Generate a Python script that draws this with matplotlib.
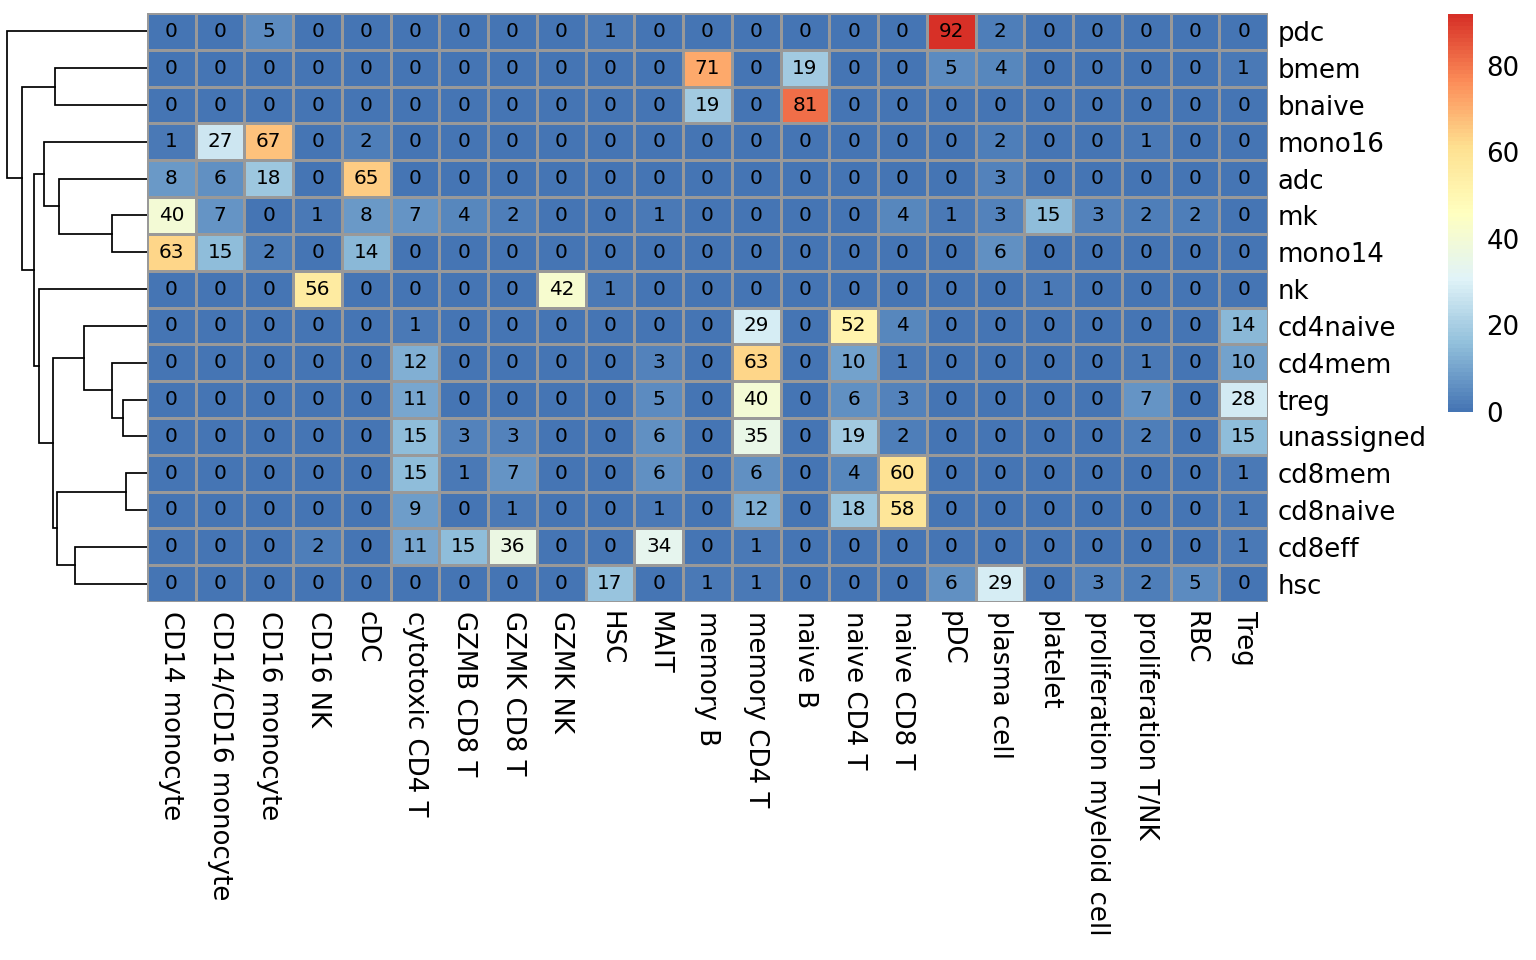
import numpy as np
import matplotlib
matplotlib.use("Agg")
import matplotlib.pyplot as plt
from matplotlib.colors import LinearSegmentedColormap, Normalize

col_labels = ["CD14 monocyte", "CD14/CD16 monocyte", "CD16 monocyte", "CD16 NK", "cDC",
              "cytotoxic CD4 T", "GZMB CD8 T", "GZMK CD8 T", "GZMK NK", "HSC", "MAIT",
              "memory B", "memory CD4 T", "naive B", "naive CD4 T", "naive CD8 T", "pDC",
              "plasma cell", "platelet", "proliferation myeloid cell", "proliferation T/NK",
              "RBC", "Treg"]
row_labels = ["pdc", "bmem", "bnaive", "mono16", "adc", "mk", "mono14", "nk", "cd4naive",
              "cd4mem", "treg", "unassigned", "cd8mem", "cd8naive", "cd8eff", "hsc"]

pdc        = [0, 0, 5, 0, 0, 0, 0, 0, 0, 1, 0, 0, 0, 0, 0, 0, 92, 2, 0, 0, 0, 0, 0]
bmem       = [0, 0, 0, 0, 0, 0, 0, 0, 0, 0, 0, 71, 0, 19, 0, 0, 5, 4, 0, 0, 0, 0, 1]
bnaive     = [0, 0, 0, 0, 0, 0, 0, 0, 0, 0, 0, 19, 0, 81, 0, 0, 0, 0, 0, 0, 0, 0, 0]
mono16     = [1, 27, 67, 0, 2, 0, 0, 0, 0, 0, 0, 0, 0, 0, 0, 0, 0, 2, 0, 0, 1, 0, 0]
adc        = [8, 6, 18, 0, 65, 0, 0, 0, 0, 0, 0, 0, 0, 0, 0, 0, 0, 3, 0, 0, 0, 0, 0]
mk         = [40, 7, 0, 1, 8, 7, 4, 2, 0, 0, 1, 0, 0, 0, 0, 4, 1, 3, 15, 3, 2, 2, 0]
mono14     = [63, 15, 2, 0, 14, 0, 0, 0, 0, 0, 0, 0, 0, 0, 0, 0, 0, 6, 0, 0, 0, 0, 0]
nk         = [0, 0, 0, 56, 0, 0, 0, 0, 42, 1, 0, 0, 0, 0, 0, 0, 0, 0, 1, 0, 0, 0, 0]
cd4naive   = [0, 0, 0, 0, 0, 1, 0, 0, 0, 0, 0, 0, 29, 0, 52, 4, 0, 0, 0, 0, 0, 0, 14]
cd4mem     = [0, 0, 0, 0, 0, 12, 0, 0, 0, 0, 3, 0, 63, 0, 10, 1, 0, 0, 0, 0, 1, 0, 10]
treg       = [0, 0, 0, 0, 0, 11, 0, 0, 0, 0, 5, 0, 40, 0, 6, 3, 0, 0, 0, 0, 7, 0, 28]
unassigned = [0, 0, 0, 0, 0, 15, 3, 3, 0, 0, 6, 0, 35, 0, 19, 2, 0, 0, 0, 0, 2, 0, 15]
cd8mem     = [0, 0, 0, 0, 0, 15, 1, 7, 0, 0, 6, 0, 6, 0, 4, 60, 0, 0, 0, 0, 0, 0, 1]
cd8naive   = [0, 0, 0, 0, 0, 9, 0, 1, 0, 0, 1, 0, 12, 0, 18, 58, 0, 0, 0, 0, 0, 0, 1]
cd8eff     = [0, 0, 0, 2, 0, 11, 15, 36, 0, 0, 34, 0, 1, 0, 0, 0, 0, 0, 0, 0, 0, 0, 1]
hsc        = [0, 0, 0, 0, 0, 0, 0, 0, 0, 17, 0, 1, 1, 0, 0, 0, 6, 29, 0, 3, 2, 5, 0]

# row dendrogram, scipy-style merges (left, right, height); leaves = row index
row_merges = [
    (12, 13, 20.7),   # 16
    (10, 11, 23.8),   # 17
    (5, 6, 35.4),     # 18
    (9, 17, 35.4),    # 19
    (8, 19, 63.0),    # 20
    (14, 15, 72.0),   # 21
    (4, 18, 87.6),    # 22
    (16, 21, 90.3),   # 23
    (1, 2, 92.0),     # 24
    (20, 23, 94.3),   # 25
    (3, 22, 103.0),   # 26
    (7, 25, 108.5),   # 27
    (26, 27, 113.5),  # 28
    (24, 28, 124.7),  # 29
    (0, 29, 140.3),   # 30
]

mat = np.array([pdc, bmem, bnaive, mono16, adc, mk, mono14, nk, cd4naive, cd4mem,
                treg, unassigned, cd8mem, cd8naive, cd8eff, hsc], dtype=float)
nr, nc = mat.shape

# pheatmap default palette: rev(brewer.pal(7, "RdYlBu")) -> 100 colours
pal = ["#4575B4", "#91BFDB", "#E0F3F8", "#FFFFBF", "#FEE090", "#FC8D59", "#D73027"]
cmap = LinearSegmentedColormap.from_list("rdylbu_r", pal, N=100)
norm = Normalize(vmin=mat.min(), vmax=mat.max())

W, H = 1536, 960
fig = plt.figure(figsize=(16, 10), dpi=96)

def px_axes(x0, y0, x1, y1):
    return fig.add_axes([x0 / W, 1 - y1 / H, (x1 - x0) / W, (y1 - y0) / H])

# heatmap
ax = px_axes(147, 13, 1268, 602)
ax.pcolormesh(np.arange(nc + 1), np.arange(nr + 1), mat, cmap=cmap, norm=norm,
              edgecolors="#999999", linewidth=1.1)
ax.set_xlim(0, nc)
ax.set_ylim(nr, 0)
for i in range(nr):
    for j in range(nc):
        ax.text(j + 0.5, i + 0.5, f"{int(mat[i, j])}", ha="center", va="center",
                fontsize=15, color="black")
ax.set_xticks(np.arange(nc) + 0.5)
ax.set_xticklabels(col_labels, rotation=270, fontsize=19.5, ha="center", va="top")
ax.set_yticks(np.arange(nr) + 0.5)
ax.set_yticklabels(row_labels, fontsize=19.5)
ax.yaxis.tick_right()
ax.tick_params(axis="y", length=0, pad=7)
ax.tick_params(axis="x", length=0, pad=7)
for s in ax.spines.values():
    s.set_visible(False)

# dendrogram
dax = px_axes(0, 13, 147, 602)
ypos = {i: i + 0.5 for i in range(nr)}
hpos = {i: 0.0 for i in range(nr)}
for k, (a, b, h) in enumerate(row_merges):
    node = nr + k
    ya, yb = ypos[a], ypos[b]
    dax.plot([hpos[a], h, h, hpos[b]], [ya, ya, yb, yb], color="black", lw=1.3,
             solid_joinstyle="miter")
    ypos[node] = (ya + yb) / 2
    hpos[node] = h
dax.set_xlim(147, 0)
dax.set_ylim(nr, 0)
dax.axis("off")

# colour legend
cax = px_axes(1448, 14, 1473, 412)
cb = fig.colorbar(plt.cm.ScalarMappable(norm=norm, cmap=cmap), cax=cax,
                  ticks=[0, 20, 40, 60, 80])
cb.outline.set_visible(False)
cax.tick_params(length=0, labelsize=19.5, pad=10)

fig.savefig("out.png", dpi=96)
